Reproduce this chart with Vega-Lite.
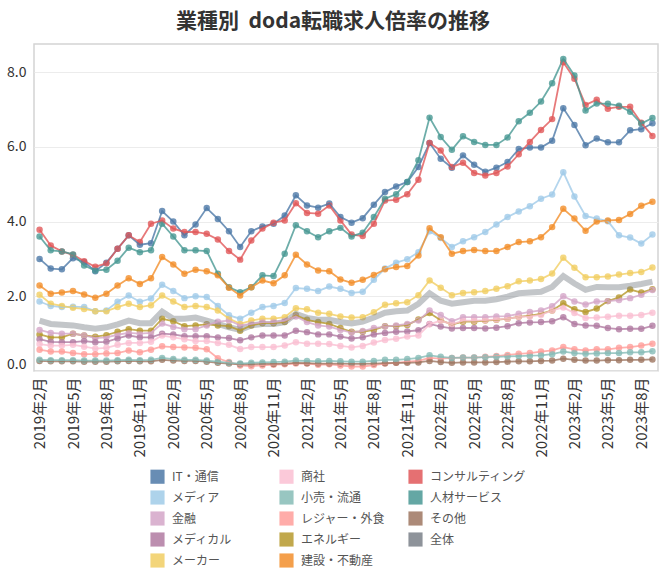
{
"$schema": "https://vega.github.io/schema/vega-lite/v6.json",
"width": 624,
"height": 327,
"autosize": {"type": "none"},
"padding": {"left": 34, "top": 44, "right": 8, "bottom": 203},
"background": "white",
"title": {"text": "業種別\u00a0 doda転職求人倍率の推移", "font": "Noto Sans CJK JP", "fontSize": 21, "fontWeight": "bold", "color": "#333333", "anchor": "middle", "offset": 12, "dx": -13},
"config": {
  "view": {"stroke": "#d4d4d4", "strokeWidth": 1.5},
  "font": "Noto Sans CJK JP"
},
"data": {"values": [
{"m":"2019-02","s":"IT・通信","v":3.00},{"m":"2019-03","s":"IT・通信","v":2.74},{"m":"2019-04","s":"IT・通信","v":2.72},{"m":"2019-05","s":"IT・通信","v":3.02},{"m":"2019-06","s":"IT・通信","v":2.92},{"m":"2019-07","s":"IT・通信","v":2.67},{"m":"2019-08","s":"IT・通信","v":2.90},{"m":"2019-09","s":"IT・通信","v":3.27},{"m":"2019-10","s":"IT・通信","v":3.63},{"m":"2019-11","s":"IT・通信","v":3.38},{"m":"2019-12","s":"IT・通信","v":3.42},{"m":"2020-01","s":"IT・通信","v":4.28},{"m":"2020-02","s":"IT・通信","v":4.00},{"m":"2020-03","s":"IT・通信","v":3.63},{"m":"2020-04","s":"IT・通信","v":3.92},{"m":"2020-05","s":"IT・通信","v":4.36},{"m":"2020-06","s":"IT・通信","v":4.07},{"m":"2020-07","s":"IT・通信","v":3.74},{"m":"2020-08","s":"IT・通信","v":3.32},{"m":"2020-09","s":"IT・通信","v":3.74},{"m":"2020-10","s":"IT・通信","v":3.87},{"m":"2020-11","s":"IT・通信","v":3.94},{"m":"2020-12","s":"IT・通信","v":4.16},{"m":"2021-01","s":"IT・通信","v":4.70},{"m":"2021-02","s":"IT・通信","v":4.43},{"m":"2021-03","s":"IT・通信","v":4.37},{"m":"2021-04","s":"IT・通信","v":4.48},{"m":"2021-05","s":"IT・通信","v":4.12},{"m":"2021-06","s":"IT・通信","v":3.97},{"m":"2021-07","s":"IT・通信","v":4.09},{"m":"2021-08","s":"IT・通信","v":4.45},{"m":"2021-09","s":"IT・通信","v":4.79},{"m":"2021-10","s":"IT・通信","v":4.94},{"m":"2021-11","s":"IT・通信","v":5.06},{"m":"2021-12","s":"IT・通信","v":5.46},{"m":"2022-01","s":"IT・通信","v":6.10},{"m":"2022-02","s":"IT・通信","v":5.68},{"m":"2022-03","s":"IT・通信","v":5.44},{"m":"2022-04","s":"IT・通信","v":5.77},{"m":"2022-05","s":"IT・通信","v":5.52},{"m":"2022-06","s":"IT・通信","v":5.33},{"m":"2022-07","s":"IT・通信","v":5.44},{"m":"2022-08","s":"IT・通信","v":5.59},{"m":"2022-09","s":"IT・通信","v":5.94},{"m":"2022-10","s":"IT・通信","v":5.98},{"m":"2022-11","s":"IT・通信","v":5.98},{"m":"2022-12","s":"IT・通信","v":6.16},{"m":"2023-01","s":"IT・通信","v":7.03},{"m":"2023-02","s":"IT・通信","v":6.58},{"m":"2023-03","s":"IT・通信","v":6.04},{"m":"2023-04","s":"IT・通信","v":6.22},{"m":"2023-05","s":"IT・通信","v":6.12},{"m":"2023-06","s":"IT・通信","v":6.12},{"m":"2023-07","s":"IT・通信","v":6.44},{"m":"2023-08","s":"IT・通信","v":6.47},{"m":"2023-09","s":"IT・通信","v":6.63},
{"m":"2019-02","s":"コンサルティング","v":3.78},{"m":"2019-03","s":"コンサルティング","v":3.36},{"m":"2019-04","s":"コンサルティング","v":3.20},{"m":"2019-05","s":"コンサルティング","v":3.11},{"m":"2019-06","s":"コンサルティング","v":2.94},{"m":"2019-07","s":"コンサルティング","v":2.79},{"m":"2019-08","s":"コンサルティング","v":2.88},{"m":"2019-09","s":"コンサルティング","v":3.27},{"m":"2019-10","s":"コンサルティング","v":3.63},{"m":"2019-11","s":"コンサルティング","v":3.45},{"m":"2019-12","s":"コンサルティング","v":3.94},{"m":"2020-01","s":"コンサルティング","v":4.03},{"m":"2020-02","s":"コンサルティング","v":3.81},{"m":"2020-03","s":"コンサルティング","v":3.72},{"m":"2020-04","s":"コンサルティング","v":3.72},{"m":"2020-05","s":"コンサルティング","v":3.67},{"m":"2020-06","s":"コンサルティング","v":3.52},{"m":"2020-07","s":"コンサルティング","v":3.21},{"m":"2020-08","s":"コンサルティング","v":2.98},{"m":"2020-09","s":"コンサルティング","v":3.49},{"m":"2020-10","s":"コンサルティング","v":3.81},{"m":"2020-11","s":"コンサルティング","v":3.97},{"m":"2020-12","s":"コンサルティング","v":4.03},{"m":"2021-01","s":"コンサルティング","v":4.49},{"m":"2021-02","s":"コンサルティング","v":4.23},{"m":"2021-03","s":"コンサルティング","v":4.21},{"m":"2021-04","s":"コンサルティング","v":4.43},{"m":"2021-05","s":"コンサルティング","v":4.03},{"m":"2021-06","s":"コンサルティング","v":3.65},{"m":"2021-07","s":"コンサルティング","v":3.61},{"m":"2021-08","s":"コンサルティング","v":3.94},{"m":"2021-09","s":"コンサルティング","v":4.56},{"m":"2021-10","s":"コンサルティング","v":4.58},{"m":"2021-11","s":"コンサルティング","v":4.73},{"m":"2021-12","s":"コンサルティング","v":5.12},{"m":"2022-01","s":"コンサルティング","v":6.10},{"m":"2022-02","s":"コンサルティング","v":5.90},{"m":"2022-03","s":"コンサルティング","v":5.46},{"m":"2022-04","s":"コンサルティング","v":5.57},{"m":"2022-05","s":"コンサルティング","v":5.30},{"m":"2022-06","s":"コンサルティング","v":5.23},{"m":"2022-07","s":"コンサルティング","v":5.30},{"m":"2022-08","s":"コンサルティング","v":5.47},{"m":"2022-09","s":"コンサルティング","v":5.80},{"m":"2022-10","s":"コンサルティング","v":6.13},{"m":"2022-11","s":"コンサルティング","v":6.45},{"m":"2022-12","s":"コンサルティング","v":6.74},{"m":"2023-01","s":"コンサルティング","v":8.26},{"m":"2023-02","s":"コンサルティング","v":7.82},{"m":"2023-03","s":"コンサルティング","v":7.12},{"m":"2023-04","s":"コンサルティング","v":7.26},{"m":"2023-05","s":"コンサルティング","v":7.02},{"m":"2023-06","s":"コンサルティング","v":7.07},{"m":"2023-07","s":"コンサルティング","v":7.07},{"m":"2023-08","s":"コンサルティング","v":6.64},{"m":"2023-09","s":"コンサルティング","v":6.29},
{"m":"2019-02","s":"人材サービス","v":3.60},{"m":"2019-03","s":"人材サービス","v":3.23},{"m":"2019-04","s":"人材サービス","v":3.20},{"m":"2019-05","s":"人材サービス","v":3.12},{"m":"2019-06","s":"人材サービス","v":2.82},{"m":"2019-07","s":"人材サービス","v":2.69},{"m":"2019-08","s":"人材サービス","v":2.71},{"m":"2019-09","s":"人材サービス","v":2.95},{"m":"2019-10","s":"人材サービス","v":3.30},{"m":"2019-11","s":"人材サービス","v":3.18},{"m":"2019-12","s":"人材サービス","v":3.23},{"m":"2020-01","s":"人材サービス","v":3.94},{"m":"2020-02","s":"人材サービス","v":3.60},{"m":"2020-03","s":"人材サービス","v":3.23},{"m":"2020-04","s":"人材サービス","v":3.23},{"m":"2020-05","s":"人材サービス","v":3.21},{"m":"2020-06","s":"人材サービス","v":2.60},{"m":"2020-07","s":"人材サービス","v":2.24},{"m":"2020-08","s":"人材サービス","v":2.11},{"m":"2020-09","s":"人材サービス","v":2.24},{"m":"2020-10","s":"人材サービス","v":2.56},{"m":"2020-11","s":"人材サービス","v":2.54},{"m":"2020-12","s":"人材サービス","v":3.14},{"m":"2021-01","s":"人材サービス","v":3.90},{"m":"2021-02","s":"人材サービス","v":3.74},{"m":"2021-03","s":"人材サービス","v":3.58},{"m":"2021-04","s":"人材サービス","v":3.74},{"m":"2021-05","s":"人材サービス","v":3.83},{"m":"2021-06","s":"人材サービス","v":3.60},{"m":"2021-07","s":"人材サービス","v":3.70},{"m":"2021-08","s":"人材サービス","v":4.12},{"m":"2021-09","s":"人材サービス","v":4.61},{"m":"2021-10","s":"人材サービス","v":4.73},{"m":"2021-11","s":"人材サービス","v":5.06},{"m":"2021-12","s":"人材サービス","v":5.64},{"m":"2022-01","s":"人材サービス","v":6.78},{"m":"2022-02","s":"人材サービス","v":6.26},{"m":"2022-03","s":"人材サービス","v":5.92},{"m":"2022-04","s":"人材サービス","v":6.28},{"m":"2022-05","s":"人材サービス","v":6.13},{"m":"2022-06","s":"人材サービス","v":6.05},{"m":"2022-07","s":"人材サービス","v":6.05},{"m":"2022-08","s":"人材サービス","v":6.25},{"m":"2022-09","s":"人材サービス","v":6.68},{"m":"2022-10","s":"人材サービス","v":6.91},{"m":"2022-11","s":"人材サービス","v":7.21},{"m":"2022-12","s":"人材サービス","v":7.70},{"m":"2023-01","s":"人材サービス","v":8.35},{"m":"2023-02","s":"人材サービス","v":7.91},{"m":"2023-03","s":"人材サービス","v":6.97},{"m":"2023-04","s":"人材サービス","v":7.16},{"m":"2023-05","s":"人材サービス","v":7.15},{"m":"2023-06","s":"人材サービス","v":7.10},{"m":"2023-07","s":"人材サービス","v":6.94},{"m":"2023-08","s":"人材サービス","v":6.62},{"m":"2023-09","s":"人材サービス","v":6.77},
{"m":"2019-02","s":"メディア","v":1.86},{"m":"2019-03","s":"メディア","v":1.74},{"m":"2019-04","s":"メディア","v":1.71},{"m":"2019-05","s":"メディア","v":1.72},{"m":"2019-06","s":"メディア","v":1.71},{"m":"2019-07","s":"メディア","v":1.60},{"m":"2019-08","s":"メディア","v":1.62},{"m":"2019-09","s":"メディア","v":1.85},{"m":"2019-10","s":"メディア","v":2.02},{"m":"2019-11","s":"メディア","v":1.85},{"m":"2019-12","s":"メディア","v":1.94},{"m":"2020-01","s":"メディア","v":2.31},{"m":"2020-02","s":"メディア","v":2.14},{"m":"2020-03","s":"メディア","v":1.95},{"m":"2020-04","s":"メディア","v":2.00},{"m":"2020-05","s":"メディア","v":1.98},{"m":"2020-06","s":"メディア","v":1.74},{"m":"2020-07","s":"メディア","v":1.49},{"m":"2020-08","s":"メディア","v":1.40},{"m":"2020-09","s":"メディア","v":1.56},{"m":"2020-10","s":"メディア","v":1.71},{"m":"2020-11","s":"メディア","v":1.74},{"m":"2020-12","s":"メディア","v":1.82},{"m":"2021-01","s":"メディア","v":2.22},{"m":"2021-02","s":"メディア","v":2.20},{"m":"2021-03","s":"メディア","v":2.14},{"m":"2021-04","s":"メディア","v":2.26},{"m":"2021-05","s":"メディア","v":2.20},{"m":"2021-06","s":"メディア","v":2.09},{"m":"2021-07","s":"メディア","v":2.12},{"m":"2021-08","s":"メディア","v":2.44},{"m":"2021-09","s":"メディア","v":2.74},{"m":"2021-10","s":"メディア","v":2.90},{"m":"2021-11","s":"メディア","v":2.99},{"m":"2021-12","s":"メディア","v":3.18},{"m":"2022-01","s":"メディア","v":3.74},{"m":"2022-02","s":"メディア","v":3.56},{"m":"2022-03","s":"メディア","v":3.32},{"m":"2022-04","s":"メディア","v":3.47},{"m":"2022-05","s":"メディア","v":3.58},{"m":"2022-06","s":"メディア","v":3.72},{"m":"2022-07","s":"メディア","v":3.92},{"m":"2022-08","s":"メディア","v":4.12},{"m":"2022-09","s":"メディア","v":4.27},{"m":"2022-10","s":"メディア","v":4.41},{"m":"2022-11","s":"メディア","v":4.61},{"m":"2022-12","s":"メディア","v":4.72},{"m":"2023-01","s":"メディア","v":5.32},{"m":"2023-02","s":"メディア","v":4.67},{"m":"2023-03","s":"メディア","v":4.15},{"m":"2023-04","s":"メディア","v":4.08},{"m":"2023-05","s":"メディア","v":4.01},{"m":"2023-06","s":"メディア","v":3.63},{"m":"2023-07","s":"メディア","v":3.57},{"m":"2023-08","s":"メディア","v":3.41},{"m":"2023-09","s":"メディア","v":3.65},
{"m":"2019-02","s":"建設・不動産","v":2.29},{"m":"2019-03","s":"建設・不動産","v":2.07},{"m":"2019-04","s":"建設・不動産","v":2.10},{"m":"2019-05","s":"建設・不動産","v":2.14},{"m":"2019-06","s":"建設・不動産","v":2.05},{"m":"2019-07","s":"建設・不動産","v":1.96},{"m":"2019-08","s":"建設・不動産","v":2.07},{"m":"2019-09","s":"建設・不動産","v":2.29},{"m":"2019-10","s":"建設・不動産","v":2.48},{"m":"2019-11","s":"建設・不動産","v":2.33},{"m":"2019-12","s":"建設・不動産","v":2.48},{"m":"2020-01","s":"建設・不動産","v":3.05},{"m":"2020-02","s":"建設・不動産","v":2.85},{"m":"2020-03","s":"建設・不動産","v":2.60},{"m":"2020-04","s":"建設・不動産","v":2.71},{"m":"2020-05","s":"建設・不動産","v":2.67},{"m":"2020-06","s":"建設・不動産","v":2.56},{"m":"2020-07","s":"建設・不動産","v":2.23},{"m":"2020-08","s":"建設・不動産","v":2.02},{"m":"2020-09","s":"建設・不動産","v":2.24},{"m":"2020-10","s":"建設・不動産","v":2.42},{"m":"2020-11","s":"建設・不動産","v":2.35},{"m":"2020-12","s":"建設・不動産","v":2.56},{"m":"2021-01","s":"建設・不動産","v":3.11},{"m":"2021-02","s":"建設・不動産","v":2.85},{"m":"2021-03","s":"建設・不動産","v":2.69},{"m":"2021-04","s":"建設・不動産","v":2.67},{"m":"2021-05","s":"建設・不動産","v":2.45},{"m":"2021-06","s":"建設・不動産","v":2.36},{"m":"2021-07","s":"建設・不動産","v":2.44},{"m":"2021-08","s":"建設・不動産","v":2.57},{"m":"2021-09","s":"建設・不動産","v":2.72},{"m":"2021-10","s":"建設・不動産","v":2.78},{"m":"2021-11","s":"建設・不動産","v":2.81},{"m":"2021-12","s":"建設・不動産","v":3.09},{"m":"2022-01","s":"建設・不動産","v":3.82},{"m":"2022-02","s":"建設・不動産","v":3.58},{"m":"2022-03","s":"建設・不動産","v":3.14},{"m":"2022-04","s":"建設・不動産","v":3.21},{"m":"2022-05","s":"建設・不動産","v":3.24},{"m":"2022-06","s":"建設・不動産","v":3.21},{"m":"2022-07","s":"建設・不動産","v":3.21},{"m":"2022-08","s":"建設・不動産","v":3.32},{"m":"2022-09","s":"建設・不動産","v":3.45},{"m":"2022-10","s":"建設・不動産","v":3.47},{"m":"2022-11","s":"建設・不動産","v":3.58},{"m":"2022-12","s":"建設・不動産","v":3.85},{"m":"2023-01","s":"建設・不動産","v":4.34},{"m":"2023-02","s":"建設・不動産","v":4.08},{"m":"2023-03","s":"建設・不動産","v":3.75},{"m":"2023-04","s":"建設・不動産","v":4.00},{"m":"2023-05","s":"建設・不動産","v":4.03},{"m":"2023-06","s":"建設・不動産","v":4.04},{"m":"2023-07","s":"建設・不動産","v":4.20},{"m":"2023-08","s":"建設・不動産","v":4.42},{"m":"2023-09","s":"建設・不動産","v":4.53},
{"m":"2019-02","s":"メーカー","v":2.04},{"m":"2019-03","s":"メーカー","v":1.80},{"m":"2019-04","s":"メーカー","v":1.74},{"m":"2019-05","s":"メーカー","v":1.69},{"m":"2019-06","s":"メーカー","v":1.66},{"m":"2019-07","s":"メーカー","v":1.60},{"m":"2019-08","s":"メーカー","v":1.60},{"m":"2019-09","s":"メーカー","v":1.71},{"m":"2019-10","s":"メーカー","v":1.80},{"m":"2019-11","s":"メーカー","v":1.71},{"m":"2019-12","s":"メーカー","v":1.76},{"m":"2020-01","s":"メーカー","v":2.02},{"m":"2020-02","s":"メーカー","v":1.86},{"m":"2020-03","s":"メーカー","v":1.71},{"m":"2020-04","s":"メーカー","v":1.74},{"m":"2020-05","s":"メーカー","v":1.71},{"m":"2020-06","s":"メーカー","v":1.62},{"m":"2020-07","s":"メーカー","v":1.40},{"m":"2020-08","s":"メーカー","v":1.26},{"m":"2020-09","s":"メーカー","v":1.35},{"m":"2020-10","s":"メーカー","v":1.40},{"m":"2020-11","s":"メーカー","v":1.40},{"m":"2020-12","s":"メーカー","v":1.44},{"m":"2021-01","s":"メーカー","v":1.68},{"m":"2021-02","s":"メーカー","v":1.65},{"m":"2021-03","s":"メーカー","v":1.56},{"m":"2021-04","s":"メーカー","v":1.53},{"m":"2021-05","s":"メーカー","v":1.46},{"m":"2021-06","s":"メーカー","v":1.43},{"m":"2021-07","s":"メーカー","v":1.44},{"m":"2021-08","s":"メーカー","v":1.57},{"m":"2021-09","s":"メーカー","v":1.77},{"m":"2021-10","s":"メーカー","v":1.81},{"m":"2021-11","s":"メーカー","v":1.84},{"m":"2021-12","s":"メーカー","v":2.03},{"m":"2022-01","s":"メーカー","v":2.42},{"m":"2022-02","s":"メーカー","v":2.23},{"m":"2022-03","s":"メーカー","v":2.03},{"m":"2022-04","s":"メーカー","v":2.09},{"m":"2022-05","s":"メーカー","v":2.11},{"m":"2022-06","s":"メーカー","v":2.14},{"m":"2022-07","s":"メーカー","v":2.20},{"m":"2022-08","s":"メーカー","v":2.27},{"m":"2022-09","s":"メーカー","v":2.40},{"m":"2022-10","s":"メーカー","v":2.42},{"m":"2022-11","s":"メーカー","v":2.46},{"m":"2022-12","s":"メーカー","v":2.61},{"m":"2023-01","s":"メーカー","v":3.03},{"m":"2023-02","s":"メーカー","v":2.76},{"m":"2023-03","s":"メーカー","v":2.51},{"m":"2023-04","s":"メーカー","v":2.51},{"m":"2023-05","s":"メーカー","v":2.53},{"m":"2023-06","s":"メーカー","v":2.58},{"m":"2023-07","s":"メーカー","v":2.62},{"m":"2023-08","s":"メーカー","v":2.65},{"m":"2023-09","s":"メーカー","v":2.77},
{"m":"2019-02","s":"全体","v":1.35},{"m":"2019-03","s":"全体","v":1.26},{"m":"2019-04","s":"全体","v":1.24},{"m":"2019-05","s":"全体","v":1.22},{"m":"2019-06","s":"全体","v":1.17},{"m":"2019-07","s":"全体","v":1.13},{"m":"2019-08","s":"全体","v":1.17},{"m":"2019-09","s":"全体","v":1.25},{"m":"2019-10","s":"全体","v":1.35},{"m":"2019-11","s":"全体","v":1.28},{"m":"2019-12","s":"全体","v":1.28},{"m":"2020-01","s":"全体","v":1.59},{"m":"2020-02","s":"全体","v":1.40},{"m":"2020-03","s":"全体","v":1.40},{"m":"2020-04","s":"全体","v":1.43},{"m":"2020-05","s":"全体","v":1.35},{"m":"2020-06","s":"全体","v":1.26},{"m":"2020-07","s":"全体","v":1.17},{"m":"2020-08","s":"全体","v":1.10},{"m":"2020-09","s":"全体","v":1.22},{"m":"2020-10","s":"全体","v":1.26},{"m":"2020-11","s":"全体","v":1.26},{"m":"2020-12","s":"全体","v":1.31},{"m":"2021-01","s":"全体","v":1.53},{"m":"2021-02","s":"全体","v":1.42},{"m":"2021-03","s":"全体","v":1.37},{"m":"2021-04","s":"全体","v":1.37},{"m":"2021-05","s":"全体","v":1.31},{"m":"2021-06","s":"全体","v":1.27},{"m":"2021-07","s":"全体","v":1.32},{"m":"2021-08","s":"全体","v":1.43},{"m":"2021-09","s":"全体","v":1.56},{"m":"2021-10","s":"全体","v":1.60},{"m":"2021-11","s":"全体","v":1.62},{"m":"2021-12","s":"全体","v":1.80},{"m":"2022-01","s":"全体","v":2.08},{"m":"2022-02","s":"全体","v":1.88},{"m":"2022-03","s":"全体","v":1.80},{"m":"2022-04","s":"全体","v":1.84},{"m":"2022-05","s":"全体","v":1.88},{"m":"2022-06","s":"全体","v":1.88},{"m":"2022-07","s":"全体","v":1.92},{"m":"2022-08","s":"全体","v":1.99},{"m":"2022-09","s":"全体","v":2.08},{"m":"2022-10","s":"全体","v":2.10},{"m":"2022-11","s":"全体","v":2.12},{"m":"2022-12","s":"全体","v":2.25},{"m":"2023-01","s":"全体","v":2.54},{"m":"2023-02","s":"全体","v":2.34},{"m":"2023-03","s":"全体","v":2.17},{"m":"2023-04","s":"全体","v":2.25},{"m":"2023-05","s":"全体","v":2.24},{"m":"2023-06","s":"全体","v":2.24},{"m":"2023-07","s":"全体","v":2.28},{"m":"2023-08","s":"全体","v":2.33},{"m":"2023-09","s":"全体","v":2.39},
{"m":"2019-02","s":"エネルギー","v":0.98},{"m":"2019-03","s":"エネルギー","v":0.90},{"m":"2019-04","s":"エネルギー","v":0.90},{"m":"2019-05","s":"エネルギー","v":1.00},{"m":"2019-06","s":"エネルギー","v":0.95},{"m":"2019-07","s":"エネルギー","v":0.92},{"m":"2019-08","s":"エネルギー","v":0.96},{"m":"2019-09","s":"エネルギー","v":1.05},{"m":"2019-10","s":"エネルギー","v":1.12},{"m":"2019-11","s":"エネルギー","v":1.08},{"m":"2019-12","s":"エネルギー","v":1.08},{"m":"2020-01","s":"エネルギー","v":1.40},{"m":"2020-02","s":"エネルギー","v":1.33},{"m":"2020-03","s":"エネルギー","v":1.20},{"m":"2020-04","s":"エネルギー","v":1.22},{"m":"2020-05","s":"エネルギー","v":1.25},{"m":"2020-06","s":"エネルギー","v":1.22},{"m":"2020-07","s":"エネルギー","v":1.20},{"m":"2020-08","s":"エネルギー","v":1.08},{"m":"2020-09","s":"エネルギー","v":1.22},{"m":"2020-10","s":"エネルギー","v":1.28},{"m":"2020-11","s":"エネルギー","v":1.28},{"m":"2020-12","s":"エネルギー","v":1.31},{"m":"2021-01","s":"エネルギー","v":1.49},{"m":"2021-02","s":"エネルギー","v":1.37},{"m":"2021-03","s":"エネルギー","v":1.31},{"m":"2021-04","s":"エネルギー","v":1.26},{"m":"2021-05","s":"エネルギー","v":1.15},{"m":"2021-06","s":"エネルギー","v":1.05},{"m":"2021-07","s":"エネルギー","v":1.05},{"m":"2021-08","s":"エネルギー","v":1.10},{"m":"2021-09","s":"エネルギー","v":1.20},{"m":"2021-10","s":"エネルギー","v":1.20},{"m":"2021-11","s":"エネルギー","v":1.23},{"m":"2021-12","s":"エネルギー","v":1.38},{"m":"2022-01","s":"エネルギー","v":1.55},{"m":"2022-02","s":"エネルギー","v":1.36},{"m":"2022-03","s":"エネルギー","v":1.24},{"m":"2022-04","s":"エネルギー","v":1.32},{"m":"2022-05","s":"エネルギー","v":1.32},{"m":"2022-06","s":"エネルギー","v":1.35},{"m":"2022-07","s":"エネルギー","v":1.37},{"m":"2022-08","s":"エネルギー","v":1.40},{"m":"2022-09","s":"エネルギー","v":1.45},{"m":"2022-10","s":"エネルギー","v":1.48},{"m":"2022-11","s":"エネルギー","v":1.53},{"m":"2022-12","s":"エネルギー","v":1.62},{"m":"2023-01","s":"エネルギー","v":1.81},{"m":"2023-02","s":"エネルギー","v":1.65},{"m":"2023-03","s":"エネルギー","v":1.58},{"m":"2023-04","s":"エネルギー","v":1.67},{"m":"2023-05","s":"エネルギー","v":1.87},{"m":"2023-06","s":"エネルギー","v":1.97},{"m":"2023-07","s":"エネルギー","v":2.18},{"m":"2023-08","s":"エネルギー","v":2.10},{"m":"2023-09","s":"エネルギー","v":2.19},
{"m":"2019-02","s":"金融","v":1.10},{"m":"2019-03","s":"金融","v":1.02},{"m":"2019-04","s":"金融","v":1.00},{"m":"2019-05","s":"金融","v":1.00},{"m":"2019-06","s":"金融","v":0.95},{"m":"2019-07","s":"金融","v":0.88},{"m":"2019-08","s":"金融","v":0.90},{"m":"2019-09","s":"金融","v":0.97},{"m":"2019-10","s":"金融","v":1.02},{"m":"2019-11","s":"金融","v":1.00},{"m":"2019-12","s":"金融","v":1.02},{"m":"2020-01","s":"金融","v":1.27},{"m":"2020-02","s":"金融","v":1.18},{"m":"2020-03","s":"金融","v":1.12},{"m":"2020-04","s":"金融","v":1.12},{"m":"2020-05","s":"金融","v":1.22},{"m":"2020-06","s":"金融","v":1.32},{"m":"2020-07","s":"金融","v":1.35},{"m":"2020-08","s":"金融","v":1.22},{"m":"2020-09","s":"金融","v":1.26},{"m":"2020-10","s":"金融","v":1.31},{"m":"2020-11","s":"金融","v":1.31},{"m":"2020-12","s":"金融","v":1.35},{"m":"2021-01","s":"金融","v":1.46},{"m":"2021-02","s":"金融","v":1.31},{"m":"2021-03","s":"金融","v":1.22},{"m":"2021-04","s":"金融","v":1.19},{"m":"2021-05","s":"金融","v":1.10},{"m":"2021-06","s":"金融","v":1.03},{"m":"2021-07","s":"金融","v":1.07},{"m":"2021-08","s":"金融","v":1.15},{"m":"2021-09","s":"金融","v":1.19},{"m":"2021-10","s":"金融","v":1.22},{"m":"2021-11","s":"金融","v":1.26},{"m":"2021-12","s":"金融","v":1.35},{"m":"2022-01","s":"金融","v":1.62},{"m":"2022-02","s":"金融","v":1.50},{"m":"2022-03","s":"金融","v":1.33},{"m":"2022-04","s":"金融","v":1.44},{"m":"2022-05","s":"金融","v":1.44},{"m":"2022-06","s":"金融","v":1.44},{"m":"2022-07","s":"金融","v":1.46},{"m":"2022-08","s":"金融","v":1.47},{"m":"2022-09","s":"金融","v":1.53},{"m":"2022-10","s":"金融","v":1.58},{"m":"2022-11","s":"金融","v":1.62},{"m":"2022-12","s":"金融","v":1.73},{"m":"2023-01","s":"金融","v":2.00},{"m":"2023-02","s":"金融","v":1.86},{"m":"2023-03","s":"金融","v":1.78},{"m":"2023-04","s":"金融","v":1.86},{"m":"2023-05","s":"金融","v":1.87},{"m":"2023-06","s":"金融","v":1.90},{"m":"2023-07","s":"金融","v":1.95},{"m":"2023-08","s":"金融","v":2.04},{"m":"2023-09","s":"金融","v":2.17},
{"m":"2019-02","s":"メディカル","v":0.85},{"m":"2019-03","s":"メディカル","v":0.78},{"m":"2019-04","s":"メディカル","v":0.77},{"m":"2019-05","s":"メディカル","v":0.77},{"m":"2019-06","s":"メディカル","v":0.80},{"m":"2019-07","s":"メディカル","v":0.77},{"m":"2019-08","s":"メディカル","v":0.78},{"m":"2019-09","s":"メディカル","v":0.87},{"m":"2019-10","s":"メディカル","v":0.95},{"m":"2019-11","s":"メディカル","v":0.90},{"m":"2019-12","s":"メディカル","v":0.90},{"m":"2020-01","s":"メディカル","v":1.00},{"m":"2020-02","s":"メディカル","v":0.98},{"m":"2020-03","s":"メディカル","v":0.93},{"m":"2020-04","s":"メディカル","v":0.93},{"m":"2020-05","s":"メディカル","v":0.93},{"m":"2020-06","s":"メディカル","v":0.90},{"m":"2020-07","s":"メディカル","v":0.88},{"m":"2020-08","s":"メディカル","v":0.82},{"m":"2020-09","s":"メディカル","v":0.90},{"m":"2020-10","s":"メディカル","v":0.95},{"m":"2020-11","s":"メディカル","v":0.95},{"m":"2020-12","s":"メディカル","v":0.95},{"m":"2021-01","s":"メディカル","v":1.08},{"m":"2021-02","s":"メディカル","v":1.04},{"m":"2021-03","s":"メディカル","v":0.98},{"m":"2021-04","s":"メディカル","v":0.98},{"m":"2021-05","s":"メディカル","v":0.92},{"m":"2021-06","s":"メディカル","v":0.87},{"m":"2021-07","s":"メディカル","v":0.90},{"m":"2021-08","s":"メディカル","v":0.98},{"m":"2021-09","s":"メディカル","v":1.02},{"m":"2021-10","s":"メディカル","v":1.05},{"m":"2021-11","s":"メディカル","v":1.06},{"m":"2021-12","s":"メディカル","v":1.09},{"m":"2022-01","s":"メディカル","v":1.26},{"m":"2022-02","s":"メディカル","v":1.19},{"m":"2022-03","s":"メディカル","v":1.14},{"m":"2022-04","s":"メディカル","v":1.15},{"m":"2022-05","s":"メディカル","v":1.15},{"m":"2022-06","s":"メディカル","v":1.14},{"m":"2022-07","s":"メディカル","v":1.16},{"m":"2022-08","s":"メディカル","v":1.20},{"m":"2022-09","s":"メディカル","v":1.28},{"m":"2022-10","s":"メディカル","v":1.30},{"m":"2022-11","s":"メディカル","v":1.31},{"m":"2022-12","s":"メディカル","v":1.33},{"m":"2023-01","s":"メディカル","v":1.44},{"m":"2023-02","s":"メディカル","v":1.26},{"m":"2023-03","s":"メディカル","v":1.22},{"m":"2023-04","s":"メディカル","v":1.21},{"m":"2023-05","s":"メディカル","v":1.15},{"m":"2023-06","s":"メディカル","v":1.12},{"m":"2023-07","s":"メディカル","v":1.13},{"m":"2023-08","s":"メディカル","v":1.13},{"m":"2023-09","s":"メディカル","v":1.21},
{"m":"2019-02","s":"商社","v":0.72},{"m":"2019-03","s":"商社","v":0.68},{"m":"2019-04","s":"商社","v":0.68},{"m":"2019-05","s":"商社","v":0.70},{"m":"2019-06","s":"商社","v":0.65},{"m":"2019-07","s":"商社","v":0.60},{"m":"2019-08","s":"商社","v":0.62},{"m":"2019-09","s":"商社","v":0.70},{"m":"2019-10","s":"商社","v":0.75},{"m":"2019-11","s":"商社","v":0.75},{"m":"2019-12","s":"商社","v":0.78},{"m":"2020-01","s":"商社","v":0.95},{"m":"2020-02","s":"商社","v":0.90},{"m":"2020-03","s":"商社","v":0.85},{"m":"2020-04","s":"商社","v":0.80},{"m":"2020-05","s":"商社","v":0.80},{"m":"2020-06","s":"商社","v":0.75},{"m":"2020-07","s":"商社","v":0.70},{"m":"2020-08","s":"商社","v":0.59},{"m":"2020-09","s":"商社","v":0.64},{"m":"2020-10","s":"商社","v":0.64},{"m":"2020-11","s":"商社","v":0.64},{"m":"2020-12","s":"商社","v":0.68},{"m":"2021-01","s":"商社","v":0.77},{"m":"2021-02","s":"商社","v":0.73},{"m":"2021-03","s":"商社","v":0.73},{"m":"2021-04","s":"商社","v":0.72},{"m":"2021-05","s":"商社","v":0.67},{"m":"2021-06","s":"商社","v":0.63},{"m":"2021-07","s":"商社","v":0.67},{"m":"2021-08","s":"商社","v":0.76},{"m":"2021-09","s":"商社","v":0.83},{"m":"2021-10","s":"商社","v":0.86},{"m":"2021-11","s":"商社","v":0.92},{"m":"2021-12","s":"商社","v":0.95},{"m":"2022-01","s":"商社","v":1.25},{"m":"2022-02","s":"商社","v":1.35},{"m":"2022-03","s":"商社","v":1.25},{"m":"2022-04","s":"商社","v":1.35},{"m":"2022-05","s":"商社","v":1.35},{"m":"2022-06","s":"商社","v":1.36},{"m":"2022-07","s":"商社","v":1.38},{"m":"2022-08","s":"商社","v":1.40},{"m":"2022-09","s":"商社","v":1.45},{"m":"2022-10","s":"商社","v":1.46},{"m":"2022-11","s":"商社","v":1.50},{"m":"2022-12","s":"商社","v":1.62},{"m":"2023-01","s":"商社","v":1.70},{"m":"2023-02","s":"商社","v":1.55},{"m":"2023-03","s":"商社","v":1.42},{"m":"2023-04","s":"商社","v":1.43},{"m":"2023-05","s":"商社","v":1.45},{"m":"2023-06","s":"商社","v":1.48},{"m":"2023-07","s":"商社","v":1.48},{"m":"2023-08","s":"商社","v":1.50},{"m":"2023-09","s":"商社","v":1.56},
{"m":"2019-02","s":"レジャー・外食","v":0.57},{"m":"2019-03","s":"レジャー・外食","v":0.52},{"m":"2019-04","s":"レジャー・外食","v":0.52},{"m":"2019-05","s":"レジャー・外食","v":0.48},{"m":"2019-06","s":"レジャー・外食","v":0.45},{"m":"2019-07","s":"レジャー・外食","v":0.45},{"m":"2019-08","s":"レジャー・外食","v":0.47},{"m":"2019-09","s":"レジャー・外食","v":0.48},{"m":"2019-10","s":"レジャー・外食","v":0.55},{"m":"2019-11","s":"レジャー・外食","v":0.50},{"m":"2019-12","s":"レジャー・外食","v":0.57},{"m":"2020-01","s":"レジャー・外食","v":0.66},{"m":"2020-02","s":"レジャー・外食","v":0.64},{"m":"2020-03","s":"レジャー・外食","v":0.63},{"m":"2020-04","s":"レジャー・外食","v":0.62},{"m":"2020-05","s":"レジャー・外食","v":0.58},{"m":"2020-06","s":"レジャー・外食","v":0.34},{"m":"2020-07","s":"レジャー・外食","v":0.24},{"m":"2020-08","s":"レジャー・外食","v":0.15},{"m":"2020-09","s":"レジャー・外食","v":0.13},{"m":"2020-10","s":"レジャー・外食","v":0.15},{"m":"2020-11","s":"レジャー・外食","v":0.17},{"m":"2020-12","s":"レジャー・外食","v":0.18},{"m":"2021-01","s":"レジャー・外食","v":0.20},{"m":"2021-02","s":"レジャー・外食","v":0.20},{"m":"2021-03","s":"レジャー・外食","v":0.17},{"m":"2021-04","s":"レジャー・外食","v":0.18},{"m":"2021-05","s":"レジャー・外食","v":0.15},{"m":"2021-06","s":"レジャー・外食","v":0.12},{"m":"2021-07","s":"レジャー・外食","v":0.12},{"m":"2021-08","s":"レジャー・外食","v":0.16},{"m":"2021-09","s":"レジャー・外食","v":0.20},{"m":"2021-10","s":"レジャー・外食","v":0.22},{"m":"2021-11","s":"レジャー・外食","v":0.25},{"m":"2021-12","s":"レジャー・外食","v":0.27},{"m":"2022-01","s":"レジャー・外食","v":0.35},{"m":"2022-02","s":"レジャー・外食","v":0.33},{"m":"2022-03","s":"レジャー・外食","v":0.35},{"m":"2022-04","s":"レジャー・外食","v":0.36},{"m":"2022-05","s":"レジャー・外食","v":0.36},{"m":"2022-06","s":"レジャー・外食","v":0.38},{"m":"2022-07","s":"レジャー・外食","v":0.40},{"m":"2022-08","s":"レジャー・外食","v":0.43},{"m":"2022-09","s":"レジャー・外食","v":0.46},{"m":"2022-10","s":"レジャー・外食","v":0.48},{"m":"2022-11","s":"レジャー・外食","v":0.52},{"m":"2022-12","s":"レジャー・外食","v":0.55},{"m":"2023-01","s":"レジャー・外食","v":0.64},{"m":"2023-02","s":"レジャー・外食","v":0.58},{"m":"2023-03","s":"レジャー・外食","v":0.55},{"m":"2023-04","s":"レジャー・外食","v":0.58},{"m":"2023-05","s":"レジャー・外食","v":0.58},{"m":"2023-06","s":"レジャー・外食","v":0.62},{"m":"2023-07","s":"レジャー・外食","v":0.64},{"m":"2023-08","s":"レジャー・外食","v":0.68},{"m":"2023-09","s":"レジャー・外食","v":0.73},
{"m":"2019-02","s":"その他","v":0.27},{"m":"2019-03","s":"その他","v":0.26},{"m":"2019-04","s":"その他","v":0.26},{"m":"2019-05","s":"その他","v":0.26},{"m":"2019-06","s":"その他","v":0.25},{"m":"2019-07","s":"その他","v":0.25},{"m":"2019-08","s":"その他","v":0.25},{"m":"2019-09","s":"その他","v":0.26},{"m":"2019-10","s":"その他","v":0.27},{"m":"2019-11","s":"その他","v":0.26},{"m":"2019-12","s":"その他","v":0.26},{"m":"2020-01","s":"その他","v":0.30},{"m":"2020-02","s":"その他","v":0.28},{"m":"2020-03","s":"その他","v":0.27},{"m":"2020-04","s":"その他","v":0.27},{"m":"2020-05","s":"その他","v":0.25},{"m":"2020-06","s":"その他","v":0.22},{"m":"2020-07","s":"その他","v":0.20},{"m":"2020-08","s":"その他","v":0.18},{"m":"2020-09","s":"その他","v":0.18},{"m":"2020-10","s":"その他","v":0.19},{"m":"2020-11","s":"その他","v":0.19},{"m":"2020-12","s":"その他","v":0.20},{"m":"2021-01","s":"その他","v":0.22},{"m":"2021-02","s":"その他","v":0.21},{"m":"2021-03","s":"その他","v":0.20},{"m":"2021-04","s":"その他","v":0.20},{"m":"2021-05","s":"その他","v":0.20},{"m":"2021-06","s":"その他","v":0.19},{"m":"2021-07","s":"その他","v":0.19},{"m":"2021-08","s":"その他","v":0.20},{"m":"2021-09","s":"その他","v":0.21},{"m":"2021-10","s":"その他","v":0.22},{"m":"2021-11","s":"その他","v":0.22},{"m":"2021-12","s":"その他","v":0.23},{"m":"2022-01","s":"その他","v":0.27},{"m":"2022-02","s":"その他","v":0.24},{"m":"2022-03","s":"その他","v":0.22},{"m":"2022-04","s":"その他","v":0.23},{"m":"2022-05","s":"その他","v":0.23},{"m":"2022-06","s":"その他","v":0.23},{"m":"2022-07","s":"その他","v":0.24},{"m":"2022-08","s":"その他","v":0.25},{"m":"2022-09","s":"その他","v":0.26},{"m":"2022-10","s":"その他","v":0.26},{"m":"2022-11","s":"その他","v":0.27},{"m":"2022-12","s":"その他","v":0.28},{"m":"2023-01","s":"その他","v":0.33},{"m":"2023-02","s":"その他","v":0.30},{"m":"2023-03","s":"その他","v":0.28},{"m":"2023-04","s":"その他","v":0.28},{"m":"2023-05","s":"その他","v":0.29},{"m":"2023-06","s":"その他","v":0.29},{"m":"2023-07","s":"その他","v":0.30},{"m":"2023-08","s":"その他","v":0.30},{"m":"2023-09","s":"その他","v":0.31},
{"m":"2019-02","s":"小売・流通","v":0.30},{"m":"2019-03","s":"小売・流通","v":0.29},{"m":"2019-04","s":"小売・流通","v":0.29},{"m":"2019-05","s":"小売・流通","v":0.29},{"m":"2019-06","s":"小売・流通","v":0.28},{"m":"2019-07","s":"小売・流通","v":0.28},{"m":"2019-08","s":"小売・流通","v":0.28},{"m":"2019-09","s":"小売・流通","v":0.29},{"m":"2019-10","s":"小売・流通","v":0.30},{"m":"2019-11","s":"小売・流通","v":0.29},{"m":"2019-12","s":"小売・流通","v":0.30},{"m":"2020-01","s":"小売・流通","v":0.35},{"m":"2020-02","s":"小売・流通","v":0.32},{"m":"2020-03","s":"小売・流通","v":0.30},{"m":"2020-04","s":"小売・流通","v":0.30},{"m":"2020-05","s":"小売・流通","v":0.28},{"m":"2020-06","s":"小売・流通","v":0.25},{"m":"2020-07","s":"小売・流通","v":0.22},{"m":"2020-08","s":"小売・流通","v":0.20},{"m":"2020-09","s":"小売・流通","v":0.22},{"m":"2020-10","s":"小売・流通","v":0.23},{"m":"2020-11","s":"小売・流通","v":0.24},{"m":"2020-12","s":"小売・流通","v":0.25},{"m":"2021-01","s":"小売・流通","v":0.28},{"m":"2021-02","s":"小売・流通","v":0.27},{"m":"2021-03","s":"小売・流通","v":0.26},{"m":"2021-04","s":"小売・流通","v":0.27},{"m":"2021-05","s":"小売・流通","v":0.26},{"m":"2021-06","s":"小売・流通","v":0.25},{"m":"2021-07","s":"小売・流通","v":0.25},{"m":"2021-08","s":"小売・流通","v":0.27},{"m":"2021-09","s":"小売・流通","v":0.30},{"m":"2021-10","s":"小売・流通","v":0.30},{"m":"2021-11","s":"小売・流通","v":0.32},{"m":"2021-12","s":"小売・流通","v":0.35},{"m":"2022-01","s":"小売・流通","v":0.42},{"m":"2022-02","s":"小売・流通","v":0.38},{"m":"2022-03","s":"小売・流通","v":0.35},{"m":"2022-04","s":"小売・流通","v":0.36},{"m":"2022-05","s":"小売・流通","v":0.36},{"m":"2022-06","s":"小売・流通","v":0.37},{"m":"2022-07","s":"小売・流通","v":0.38},{"m":"2022-08","s":"小売・流通","v":0.39},{"m":"2022-09","s":"小売・流通","v":0.40},{"m":"2022-10","s":"小売・流通","v":0.41},{"m":"2022-11","s":"小売・流通","v":0.42},{"m":"2022-12","s":"小売・流通","v":0.45},{"m":"2023-01","s":"小売・流通","v":0.52},{"m":"2023-02","s":"小売・流通","v":0.48},{"m":"2023-03","s":"小売・流通","v":0.46},{"m":"2023-04","s":"小売・流通","v":0.47},{"m":"2023-05","s":"小売・流通","v":0.48},{"m":"2023-06","s":"小売・流通","v":0.48},{"m":"2023-07","s":"小売・流通","v":0.50},{"m":"2023-08","s":"小売・流通","v":0.50},{"m":"2023-09","s":"小売・流通","v":0.53}
]},
"encoding": {
  "x": {"field": "m", "type": "ordinal", "scale": {"type": "point", "padding": 0.5},
        "axis": {"title": null, "values": ["2019-02","2019-05","2019-08","2019-11","2020-02","2020-05","2020-08","2020-11","2021-02","2021-05","2021-08","2021-11","2022-02","2022-05","2022-08","2022-11","2023-02","2023-05","2023-08"],
                 "labelExpr": "slice(datum.value,0,4) + '年' + toNumber(slice(datum.value,5)) + '月'",
                 "labelAngle": 270, "labelFontSize": 15, "labelColor": "#333333", "labelPadding": 6, "ticks": false, "domain": false, "grid": false, "labelFont": "Noto Sans CJK JP"}},
  "y": {"field": "v", "type": "quantitative", "scale": {"domain": [0, 8.75], "nice": false},
        "axis": {"title": null, "values": [0, 2, 4, 6, 8], "format": ".1f", "labelFontSize": 14, "labelColor": "#333333", "labelPadding": 8, "ticks": false, "domain": false, "gridColor": "#ececec", "labelFlush": true, "labelFont": "Noto Sans CJK JP"}},
  "color": {"field": "s", "type": "nominal",
    "scale": {"domain": ["IT・通信","商社","コンサルティング","メディア","小売・流通","人材サービス","金融","レジャー・外食","その他","メディカル","エネルギー","全体","メーカー","建設・不動産"],
              "range": ["#4e79a7","#fabfd2","#e15759","#a0cbe8","#86bcb6","#499894","#d4a6c8","#ff9d9a","#9d7660","#b07aa1","#b6992d","#7a8088","#f1ce63","#f28e2b"]},
    "legend": {"title": null, "orient": "none", "legendX": 116, "legendY": 425, "columns": 3, "direction": "horizontal", "symbolType": "square", "symbolSize": 200, "symbolOpacity": 0.85, "symbolStrokeWidth": 0, "labelFontSize": 12, "labelColor": "#555555", "labelFont": "Noto Sans CJK JP", "rowPadding": 6, "columnPadding": 10, "gridAlign": "all", "labelOffset": 7, "labelLimit": 200}}
},
"layer": [
  {"transform": [{"filter": "datum.s !== '全体'"}], "mark": {"type": "point", "filled": true, "size": 42, "opacity": 0.8}},
  {"transform": [{"filter": "datum.s === '全体'"}], "mark": {"type": "line", "strokeWidth": 6, "opacity": 0.45}},
  {"transform": [{"filter": "datum.s !== '全体'"}], "mark": {"type": "line", "strokeWidth": 1.8, "opacity": 0.8}}
]
}
